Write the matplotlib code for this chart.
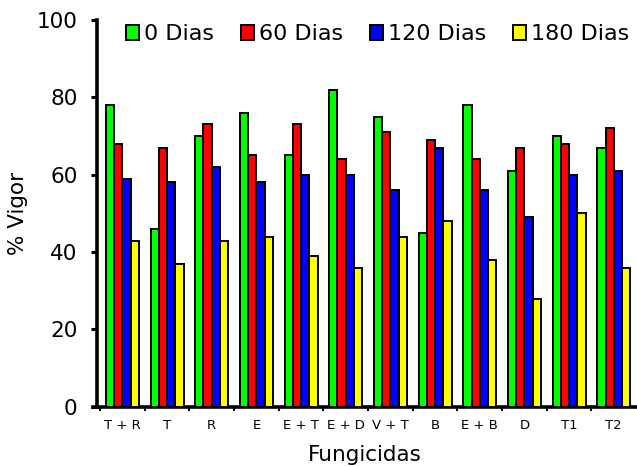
import matplotlib.pyplot as plt
import numpy as np

plt.rcParams['font.family'] = ['DejaVu Sans']

# data
fungicidas = ['T + R', 'T', 'R', 'E', 'E + T', 'E + D', 'V + T', 'B', 'E + B', 'D', 'T1', 'T2']
dias_0 = [78, 46, 70, 76, 65, 82, 75, 45, 78, 61, 70, 67]
dias_60 = [68, 67, 73, 65, 73, 64, 71, 69, 64, 67, 68, 72]
dias_120 = [59, 58, 62, 58, 60, 60, 56, 67, 56, 49, 60, 61]
dias_180 = [43, 37, 43, 44, 39, 36, 44, 48, 38, 28, 50, 36]
series_names = ['0 Dias', '60 Dias', '120 Dias', '180 Dias']
colors = ['#00ff00', '#ff0000', '#0000ff', '#ffff00']

fig = plt.figure(figsize=(6.37, 4.66), dpi=100)
ax = fig.add_axes([0.1466, 0.127, 0.8534, 0.830])

x = np.arange(len(fungicidas))
w = 0.185
series = [dias_0, dias_60, dias_120, dias_180]
for k, vals in enumerate(series):
    ax.bar(x + (k - 1.5) * w, vals, w, color=colors[k], edgecolor='black',
           linewidth=1.4, label=series_names[k], zorder=3)

ax.set_xlim(-0.65, 11.52)
ax.set_ylim(0, 100)
ax.set_yticks([0, 20, 40, 60, 80, 100])
ax.tick_params(axis='y', direction='out', length=4, width=2.2, labelsize=15.5, pad=10)

# category labels between the boundary ticks
ax.set_xticks(x - 0.5, minor=False)
ax.set_xticklabels([])
ax.set_xticks(x, minor=True)
ax.set_xticklabels(fungicidas, minor=True, fontsize=9.5)
ax.tick_params(axis='x', which='major', direction='out', length=3, width=1.5)
ax.tick_params(axis='x', which='minor', length=0, pad=9)

for s in ['top', 'right']:
    ax.spines[s].set_visible(False)
ax.spines['left'].set_linewidth(2.6)
ax.spines['bottom'].set_linewidth(2.6)
ax.spines['left'].set_position(('data', -0.57))
ax.spines['left'].set_bounds(0, 100)

ax.set_xlabel('Fungicidas', fontsize=15.5, labelpad=9)
ax.set_ylabel('% Vigor', fontsize=15.5, labelpad=6)

leg = ax.legend(ncol=4, frameon=False, loc='center left', bbox_to_anchor=(0.06, 0.963),
                fontsize=16, handlelength=0.6, handleheight=0.6, handletextpad=0.2,
                columnspacing=1.22, borderaxespad=0.0, borderpad=0.0)

fig.savefig('out.png', dpi=100)
